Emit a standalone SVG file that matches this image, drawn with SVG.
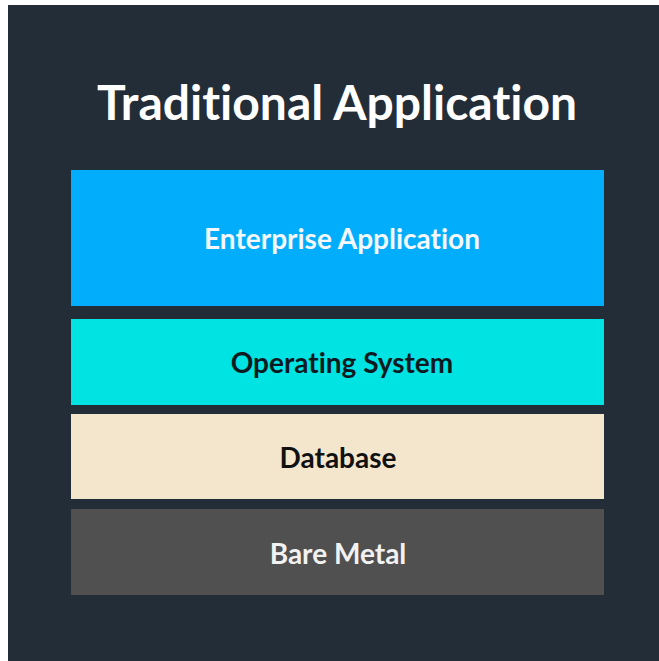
<svg xmlns="http://www.w3.org/2000/svg" width="659" height="661" viewBox="0 0 659 661">
<style>
.t{font-family:Lato,"Open Sans","DejaVu Sans",sans-serif;font-weight:bold;text-anchor:middle;font-variant-ligatures:none;font-feature-settings:"liga" 0,"dlig" 0}
.title{font-size:48px;fill:#ffffff}
.lbl{font-size:28px}
</style>
<rect x="0" y="0" width="659" height="661" fill="#ffffff"/>
<rect x="8" y="5" width="651" height="656" fill="#232d38"/>
<text class="t title" x="337" y="120">Traditional Application</text>
<g id="enterprise-application">
<rect x="71" y="170" width="533" height="136" fill="#02aefc"/>
<text class="t lbl" x="342" y="249" fill="#f4f8fb">Enterprise Application</text>
</g>
<g id="operating-system">
<rect x="71" y="319" width="533" height="86" fill="#00e3e3"/>
<text class="t lbl" x="342" y="373" fill="#0d1a1f">Operating System</text>
</g>
<g id="database">
<rect x="71" y="414" width="533" height="85" fill="#f3e6cc"/>
<text class="t lbl" x="338" y="468" fill="#111111">Database</text>
</g>
<g id="bare-metal">
<rect x="71" y="509" width="533" height="86" fill="#505050"/>
<text class="t lbl" x="338" y="564" fill="#f2f2f2">Bare Metal</text>
</g>
<g id="connectors"></g>
</svg>
